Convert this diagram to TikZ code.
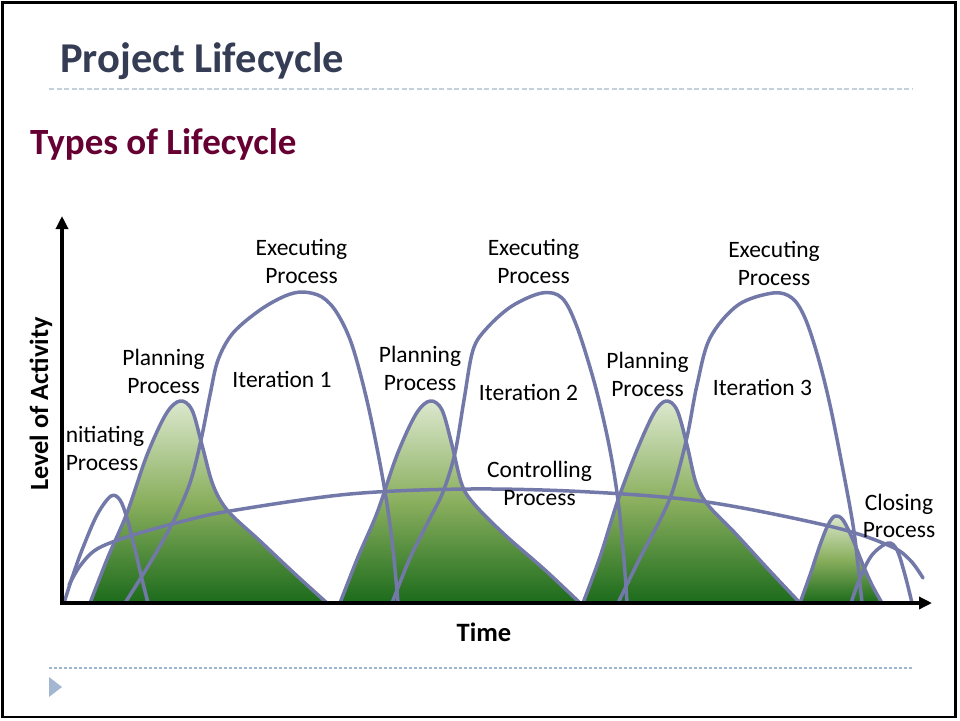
\documentclass[tikz,border=0pt]{standalone}
\usepackage{fontspec}
\setmainfont{Carlito}
\usetikzlibrary{arrows.meta}
\definecolor{curve}{HTML}{7279A8}
\definecolor{lightg}{HTML}{DCE8CE}
\definecolor{midg}{HTML}{8AAF5E}
\definecolor{darkg}{HTML}{1B6B1B}
\definecolor{titlecol}{HTML}{353D55}
\definecolor{subcol}{HTML}{660033}
\definecolor{dashcol}{HTML}{C3D1DD}
\definecolor{dashtwo}{HTML}{9DB6D3}
\definecolor{tri}{HTML}{A3B7D2}
\begin{document}
\begin{tikzpicture}[x=1pt,y=-1pt,
  proc/.style={draw=curve,line width=3.5pt,line join=round,line cap=round},
  greenfill/.style={top color=lightg,bottom color=darkg,middle color=midg},
  lbl/.style={font=\fontsize{23.5}{28}\selectfont,inner sep=0pt,anchor=base},
  axisline/.style={line width=3.5pt,-{Triangle[length=13pt,width=12pt]}},
  smoothplot/.style={smooth,tension=0.55}]
\useasboundingbox (0,0) rectangle (960,720);
\draw[line width=2.5pt] (2.5,2.5) rectangle (955.5,717);

% titles
\node[anchor=base west,inner sep=0pt,text=titlecol,font=\fontsize{42.5}{50}\selectfont\bfseries] (title) at (60,72) {Project Lifecycle};
\draw[dashcol,line width=1.5pt,dash pattern=on 5pt off 2.5pt] (49,89) -- (913,89);
\node[anchor=base west,inner sep=0pt,text=subcol,font=\fontsize{37}{44}\selectfont\bfseries] (sub) at (30,154) {Types of Lifecycle};

% green fills (planning)
\path[greenfill] plot[smoothplot] coordinates {(90,603) (108,557) (127,513) (147,455) (166,414) (180,401) (192,410) (202,445) (213,485) (228,511) (260,541) (295,574) (327,603)} -- cycle;
\path[greenfill] plot[smoothplot] coordinates {(340,603) (358,557) (377,513) (397,455) (416,414) (430,401) (442,410) (452,445) (462,485) (475,505) (505,535) (545,570) (580,603)} -- cycle;
\path[greenfill] plot[smoothplot] coordinates {(583,603) (600,557) (618,500) (637,450) (654,413) (666,401) (677,410) (687,445) (696,483) (708,505) (735,533) (768,569) (800,603)} -- cycle;
\path[greenfill] plot[smoothplot] coordinates {(800,603) (810,575) (820,545) (828,525) (835,516) (843,520) (853,540) (863,565) (872,585) (882,603)} -- cycle;

% outlines
\draw[proc] plot[smoothplot] coordinates {(90,603) (108,557) (127,513) (147,455) (166,414) (180,401) (192,410) (202,445) (213,485) (228,511) (260,541) (295,574) (327,603)};
\draw[proc] plot[smoothplot] coordinates {(340,603) (358,557) (377,513) (397,455) (416,414) (430,401) (442,410) (452,445) (462,485) (475,505) (505,535) (545,570) (580,603)};
\draw[proc] plot[smoothplot] coordinates {(583,603) (600,557) (618,500) (637,450) (654,413) (666,401) (677,410) (687,445) (696,483) (708,505) (735,533) (768,569) (800,603)};
\draw[proc] plot[smoothplot] coordinates {(800,603) (810,575) (820,545) (828,525) (835,516) (843,520) (853,540) (863,565) (872,585) (882,603)};

% initiating
\draw[proc] plot[smoothplot] coordinates {(64,603) (72,578) (82,550) (97,515) (111,496) (120,500) (127,518) (134,545) (141,575) (148,603)};
% controlling
\draw[proc] plot[smoothplot] coordinates {(69,585) (80,566) (97,549) (130,536) (180,522) (230,511) (350,494) (470,489) (590,492) (707,502) (833,527) (890,546) (910,560) (923,578)};
% executing
\draw[proc] plot[smoothplot] coordinates {(125,603) (150,563) (173,522) (190,483) (201,440) (210,395) (218,360) (233,333) (260,310) (285,296) (303,292) (322,297) (337,313) (352,345) (368,405) (383,480) (392,540) (398,603)};
\draw[proc] plot[smoothplot] coordinates {(392,603) (410,558) (428,522) (443,492) (455,453) (464,400) (473,350) (487,328) (512,306) (542,293) (562,298) (577,327) (595,385) (609,445) (618,500) (624,560) (627,603)};
\draw[proc] plot[smoothplot] coordinates {(618,603) (640,558) (660,520) (673,490) (687,437) (697,385) (710,338) (738,305) (773,293) (792,298) (805,318) (818,357) (830,405) (843,470) (853,525) (858,565) (862,603)};
% closing
\draw[proc] plot[smoothplot] coordinates {(851,603) (860,578) (872,555) (888,543) (897,550) (905,575) (912,603)};

% labels
\begin{scope}
  \clip (63.5,400) rectangle (200,480);
  \node[lbl] (initA) at (102,442) {Initiating};
\end{scope}
\node[lbl] (initB) at (102,470) {Process};
\node[lbl] (planAa) at (163.5,365) {Planning};
\node[lbl] (planAb) at (163.5,393) {Process};
\node[lbl] (planBa) at (420,362) {Planning};
\node[lbl] (planBb) at (420,390) {Process};
\node[lbl] (planCa) at (647.5,368) {Planning};
\node[lbl] (planCb) at (647.5,396) {Process};
\node[lbl] (exeAa) at (301.5,255) {Executing};
\node[lbl] (exeAb) at (301.5,283) {Process};
\node[lbl] (exeBa) at (533.5,255) {Executing};
\node[lbl] (exeBb) at (533.5,283) {Process};
\node[lbl] (exeCa) at (774,257) {Executing};
\node[lbl] (exeCb) at (774,285) {Process};
\node[lbl] (itA) at (282,387) {Iteration 1};
\node[lbl] (itB) at (528.5,400) {Iteration 2};
\node[lbl] (itC) at (762.5,395) {Iteration 3};
\node[lbl] (ctlA) at (539.5,477) {Controlling};
\node[lbl] (ctlB) at (539.5,505) {Process};
\node[lbl] (cloA) at (899,510) {Closing};
\node[lbl] (cloB) at (899,537) {Process};

% axes
\coordinate (orig) at (62,605);
\coordinate (ytip) at (62,216);
\coordinate (xorig) at (60.25,603);
\coordinate (xtip) at (932,603);
\draw[axisline] (orig) -- (ytip);
\draw[axisline] (xorig) -- (xtip);
\node[rotate=90,font=\fontsize{26.3}{30}\selectfont\bfseries] (ylab) at (41,404) {Level of Activity};
\node[font=\fontsize{26.5}{30}\selectfont\bfseries] (xlab) at (484,632) {Time};

% footer
\draw[dashtwo,line width=1.2pt,dash pattern=on 3pt off 2pt] (49,668) -- (913,668);
\fill[tri] (49,677) -- (62,687) -- (49,697) -- cycle;
\end{tikzpicture}
\end{document}
